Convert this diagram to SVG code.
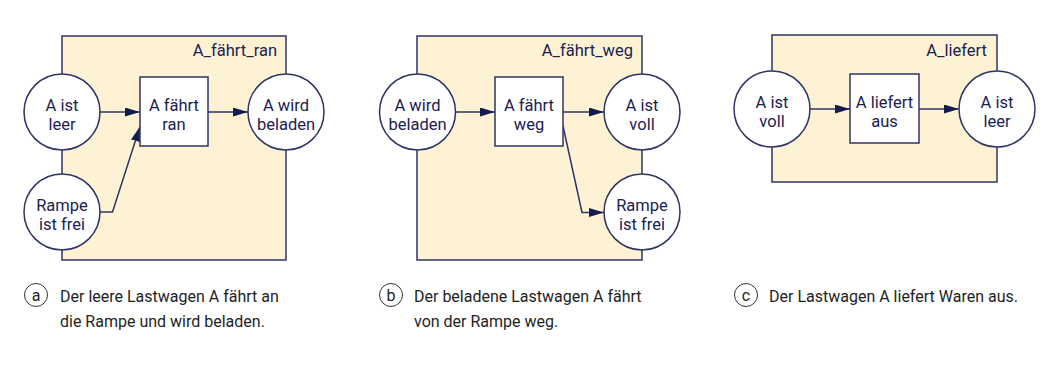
<svg xmlns="http://www.w3.org/2000/svg" width="1055" height="365" viewBox="0 0 1055 365">
<style>
.frame{fill:#fdf3d4;stroke:#2e3464;stroke-width:1.5}
.place{fill:#ffffff;stroke:#2e3464;stroke-width:1.5}
.trans{fill:#ffffff;stroke:#2e3464;stroke-width:1.5}
.lbl{font-family:Roboto,"Liberation Sans",sans-serif;font-size:16.5px;fill:#1b2152;text-anchor:middle}
.ttl{font-family:Roboto,"Liberation Sans",sans-serif;font-size:16.5px;fill:#1b2152;text-anchor:end}
.cap{font-family:Roboto,"Liberation Sans",sans-serif;font-size:16px;fill:#1e1e1e}
.capl{font-family:Roboto,"Liberation Sans",sans-serif;font-size:16px;fill:#1e1e1e;text-anchor:middle}
.badge{fill:none;stroke:#333333;stroke-width:1}
.edge{fill:none;stroke:#2e3464;stroke-width:1.5}
</style>
<defs>
<marker id="arr" markerUnits="userSpaceOnUse" markerWidth="16" markerHeight="10" refX="15" refY="4.5" orient="auto">
<path d="M0,0 L15,4.5 L0,9 z" fill="#141b4d"/>
</marker>
</defs>

<g id="frame-a"><rect class="frame" x="62" y="36" width="224" height="224"/><text class="ttl" x="277" y="56">A_fährt_ran</text></g>
<g id="frame-b"><rect class="frame" x="417" y="36" width="225" height="224"/><text class="ttl" x="633" y="56">A_fährt_weg</text></g>
<g id="frame-c"><rect class="frame" x="772" y="35" width="225" height="147"/><text class="ttl" x="987" y="56">A_liefert</text></g>

<g id="connectors">
<line class="edge" x1="100" y1="112" x2="140" y2="112" marker-end="url(#arr)"/>
<line class="edge" x1="208" y1="112" x2="248" y2="112" marker-end="url(#arr)"/>
<polyline class="edge" points="100,212 112.5,212 140,126.5" marker-end="url(#arr)"/>
<line class="edge" x1="455.5" y1="112" x2="495" y2="112" marker-end="url(#arr)"/>
<line class="edge" x1="563" y1="112" x2="604" y2="112" marker-end="url(#arr)"/>
<polyline class="edge" points="563,126 582,212.5 604,212.5" marker-end="url(#arr)"/>
<line class="edge" x1="810" y1="109" x2="850" y2="109" marker-end="url(#arr)"/>
<line class="edge" x1="919" y1="109" x2="959" y2="109" marker-end="url(#arr)"/>
</g>

<g id="a-leer"><circle class="place" cx="62" cy="112" r="38"/><text class="lbl" x="62" y="111">A ist</text><text class="lbl" x="62" y="130">leer</text></g>
<g id="a-rampe"><circle class="place" cx="62" cy="212" r="38"/><text class="lbl" x="62" y="211">Rampe</text><text class="lbl" x="62" y="230">ist frei</text></g>
<g id="a-faehrt-ran"><rect class="trans" x="140" y="77" width="68" height="69"/><text class="lbl" x="174" y="111">A fährt</text><text class="lbl" x="174" y="130">ran</text></g>
<g id="a-beladen"><circle class="place" cx="286" cy="112" r="38"/><text class="lbl" x="286" y="111">A wird</text><text class="lbl" x="286" y="130">beladen</text></g>

<g id="b-beladen"><circle class="place" cx="417.5" cy="112" r="38"/><text class="lbl" x="417.5" y="111">A wird</text><text class="lbl" x="417.5" y="130">beladen</text></g>
<g id="b-faehrt-weg"><rect class="trans" x="495" y="77" width="68" height="69"/><text class="lbl" x="529" y="111">A fährt</text><text class="lbl" x="529" y="130">weg</text></g>
<g id="b-voll"><circle class="place" cx="642" cy="112" r="38"/><text class="lbl" x="642" y="111">A ist</text><text class="lbl" x="642" y="130">voll</text></g>
<g id="b-rampe"><circle class="place" cx="642" cy="212" r="38"/><text class="lbl" x="642" y="211">Rampe</text><text class="lbl" x="642" y="230">ist frei</text></g>

<g id="c-voll"><circle class="place" cx="772" cy="109" r="38"/><text class="lbl" x="772" y="108">A ist</text><text class="lbl" x="772" y="127">voll</text></g>
<g id="c-liefert"><rect class="trans" x="850" y="74" width="69" height="69"/><text class="lbl" x="884.5" y="108">A liefert</text><text class="lbl" x="884.5" y="127">aus</text></g>
<g id="c-leer"><circle class="place" cx="997" cy="109" r="38"/><text class="lbl" x="997" y="108">A ist</text><text class="lbl" x="997" y="127">leer</text></g>

<g id="caption-a"><circle class="badge" cx="36" cy="295" r="11.5"/><text class="capl" x="36" y="300.5">a</text>
<text class="cap" x="60" y="302">Der leere Lastwagen A fährt an</text><text class="cap" x="60" y="327">die Rampe und wird beladen.</text></g>
<g id="caption-b"><circle class="badge" cx="391" cy="295" r="11.5"/><text class="capl" x="391" y="300.5">b</text>
<text class="cap" x="414" y="302">Der beladene Lastwagen A fährt</text><text class="cap" x="414" y="327">von der Rampe weg.</text></g>
<g id="caption-c"><circle class="badge" cx="746" cy="295" r="11.5"/><text class="capl" x="746" y="300.5">c</text>
<text class="cap" x="769" y="302">Der Lastwagen A liefert Waren aus.</text></g>
</svg>
